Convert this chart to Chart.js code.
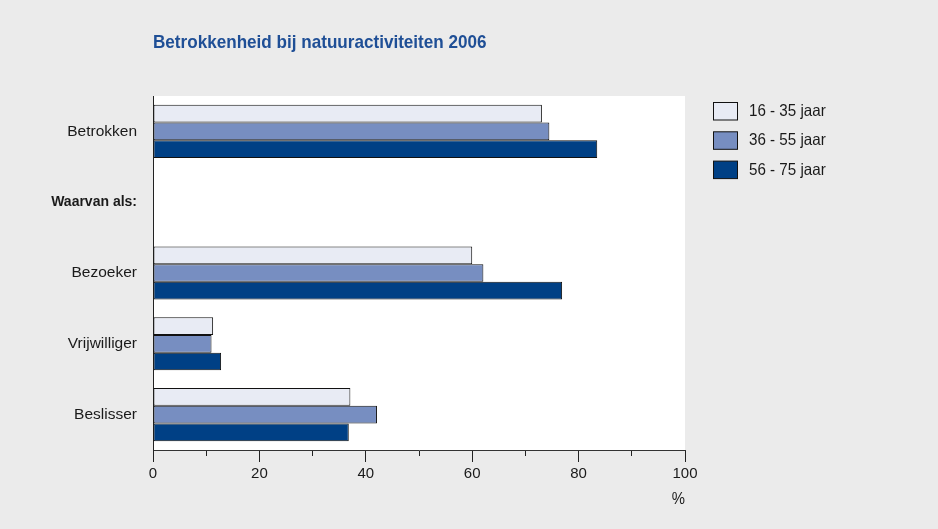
<!DOCTYPE html>
<html>
<head>
<meta charset="utf-8">
<script src="https://cdn.jsdelivr.net/npm/chart.js@4/dist/chart.umd.min.js"></script>
<style>
  html, body { margin: 0; padding: 0; background: #ebebeb; }
  #wrap { width: 938px; height: 529px; position: relative; }
</style>
</head>
<body>
<div id="wrap"><canvas id="c" width="938" height="529"></canvas></div>
<script>
const chartTitle = 'Betrokkenheid bij natuuractiviteiten 2006';
const categories = ['Betrokken', 'Waarvan als:', 'Bezoeker', 'Vrijwilliger', 'Beslisser'];
const seriesNames = ['16 - 35 jaar', '36 - 55 jaar', '56 - 75 jaar'];
const age16to35 = [73.1, null, 60.0, 11.3, 37.1];
const age36to55 = [74.5, null, 62.1, 11.0, 42.1];
const age56to75 = [83.5, null, 76.9, 12.8, 36.8];
const xTicksMin = 0, xTicksMax = 100, xTickStep = 10, xLabelStep = 20;
const unitLabel = '%';

const colors = ['#e8ebf4', '#778ec1', '#004085'];
const FONT = "'Liberation Sans', Arial, sans-serif";

function scaledText(ctx, text, x, y, sx, align) {
  ctx.save();
  ctx.translate(x, y);
  ctx.scale(sx, 1);
  ctx.textAlign = align;
  ctx.textBaseline = 'middle';
  ctx.fillText(text, 0, 0);
  ctx.restore();
}

const extras = {
  id: 'extras',
  beforeDraw(chart) {
    const {ctx, chartArea: a} = chart;
    ctx.save();
    ctx.fillStyle = '#ebebeb';
    ctx.fillRect(0, 0, chart.width, chart.height);
    ctx.fillStyle = '#ffffff';
    ctx.fillRect(a.left, a.top, a.right - a.left, a.bottom - a.top);
    ctx.restore();
  },
  afterDraw(chart) {
    const {ctx, chartArea: a} = chart;
    ctx.save();
    // title
    ctx.font = 'bold 19px ' + FONT;
    ctx.fillStyle = '#1f4f96';
    scaledText(ctx, chartTitle, 153, 42.5, 0.9, 'left');
    // legend
    ctx.font = '16.5px ' + FONT;
    chart.data.datasets.forEach((ds, i) => {
      const y = 102.5 + i * 29.3;
      ctx.fillStyle = ds.backgroundColor;
      ctx.fillRect(713.5, y, 24, 17.5);
      ctx.strokeStyle = '#111';
      ctx.lineWidth = 1;
      ctx.strokeRect(713.5, y, 24, 17.5);
      ctx.fillStyle = '#1a1a1a';
      scaledText(ctx, ds.label, 749, y + 9, 0.92, 'left');
    });
    // unit
    ctx.font = '16.5px ' + FONT;
    ctx.fillStyle = '#1a1a1a';
    scaledText(ctx, unitLabel, a.right, 499, 0.9, 'right');
    ctx.restore();
  }
};

new Chart(document.getElementById('c'), {
  type: 'bar',
  data: {
    labels: categories,
    datasets: [age16to35, age36to55, age56to75].map((d, i) => ({
      label: seriesNames[i],
      data: d,
      backgroundColor: colors[i],
      borderColor: '#111',
      borderWidth: 1,
      borderSkipped: false,
      categoryPercentage: 0.75,
      barPercentage: 1.0
    }))
  },
  options: {
    indexAxis: 'y',
    responsive: false,
    animation: false,
    devicePixelRatio: 1,
    layout: { padding: { top: 96, right: 253, left: 0, bottom: 0 } },
    plugins: { legend: { display: false }, title: { display: false }, tooltip: { enabled: false } },
    scales: {
      x: {
        min: xTicksMin, max: xTicksMax,
        afterFit(s) { s.height = 79; },
        grid: {
          display: true, drawOnChartArea: false, drawTicks: true, tickLength: 12,
          tickColor: '#222', tickWidth: 1,
          tickBorderDash: (c) => (c.tick && c.tick.value % xLabelStep === 0) ? [] : [5, 50]
        },
        border: { display: true, color: '#333', width: 1 },
        ticks: {
          stepSize: xTickStep, autoSkip: false, maxRotation: 0, padding: 2.5,
          color: '#1a1a1a',
          font: { family: FONT, size: 15 },
          callback: (v) => (v % xLabelStep === 0 ? v : '')
        }
      },
      y: {
        afterFit(s) { s.width = 153; },
        grid: { display: true, drawOnChartArea: false, drawTicks: false, color: 'rgba(0,0,0,0)' },
        border: { display: true, color: '#222', width: 1 },
        ticks: {
          padding: 16,
          color: '#1a1a1a',
          font: (c) => ({ family: FONT, size: c.index === 1 ? 14 : 15.5, weight: c.index === 1 ? 'bold' : 'normal' })
        }
      }
    }
  },
  plugins: [extras]
});
</script>
</body>
</html>
